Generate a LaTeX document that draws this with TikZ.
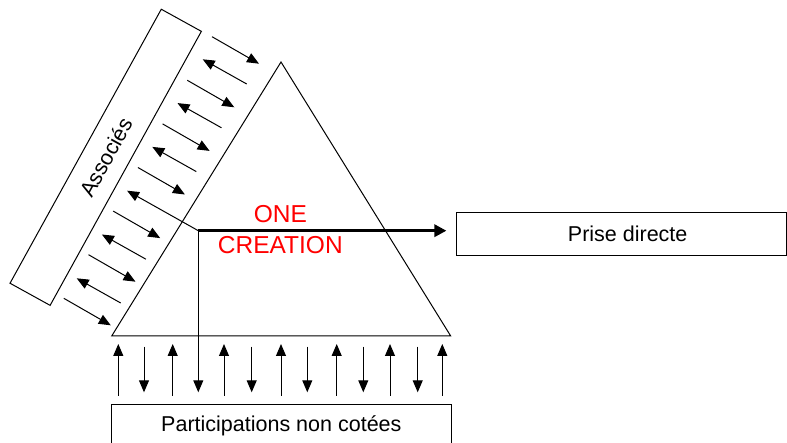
\documentclass[tikz,border=0pt]{standalone}
\usepackage{fontspec}
\setmainfont{Liberation Sans}
\usetikzlibrary{arrows.meta}
\begin{document}
\begin{tikzpicture}[x=1pt,y=-1pt,
  thinline/.style={line width=1pt},
  arr/.style={line width=1pt, -{Triangle[length=12pt,width=10pt]}},
  box/.style={draw, line width=1pt, inner sep=0pt, font=\fontsize{21.5}{26}\selectfont},
]
\useasboundingbox (0,0) rectangle (787,443);
% triangle
\coordinate (apex) at (281,62);
\coordinate (bl) at (111.7,336);
\coordinate (br) at (450.7,336);
\draw[thinline] (apex) -- (bl) -- (br) -- cycle;
% boxes
\node[box, rotate=61.1, minimum width=313pt, minimum height=45.8pt] (assoc) at (105.7,157.3) {Associés};
\node[box, minimum width=329.5pt, minimum height=42.7pt] (prise) at (621.7,233.7) {\hspace*{12pt}Prise directe};
\node[box, minimum width=339.3pt, minimum height=42.7pt] (part) at (281.35,426.3) {Participations non cotées};
% red label
\node[red, align=center, inner sep=0pt, font=\fontsize{24.5}{31}\selectfont] (one) at (280.3,229.2) {ONE\\CREATION};
% junction and connectors
\coordinate (junc) at (198.3,230.7);
\draw[line width=3pt, -{Triangle[length=12pt,width=12pt]}, shorten >=10pt] (junc) -- (junc -| prise.west);
\draw[arr] (junc) -- (198.3,392.3);
\draw[arr] (junc) -- (127.1,190.7);
% diagonal arrows
\foreach \k in {0,...,6} \draw[arr] ({212-24.7*\k},{36.7+43.6*\k}) -- ++(47,27);
\foreach \k in {0,1,2,4,5} \draw[arr] ({246.7-25.2*\k},{84+43.8*\k}) -- ++(-44,-24.7);
% bottom arrows
\foreach \x in {118.3,172.7,224,281,336.7,390,442.3} \draw[arr] (\x,396) -- (\x,344);
\foreach \x in {144,251.7,307.3,363.3,417.7} \draw[arr] (\x,346.7) -- (\x,392.3);
\end{tikzpicture}
\end{document}
